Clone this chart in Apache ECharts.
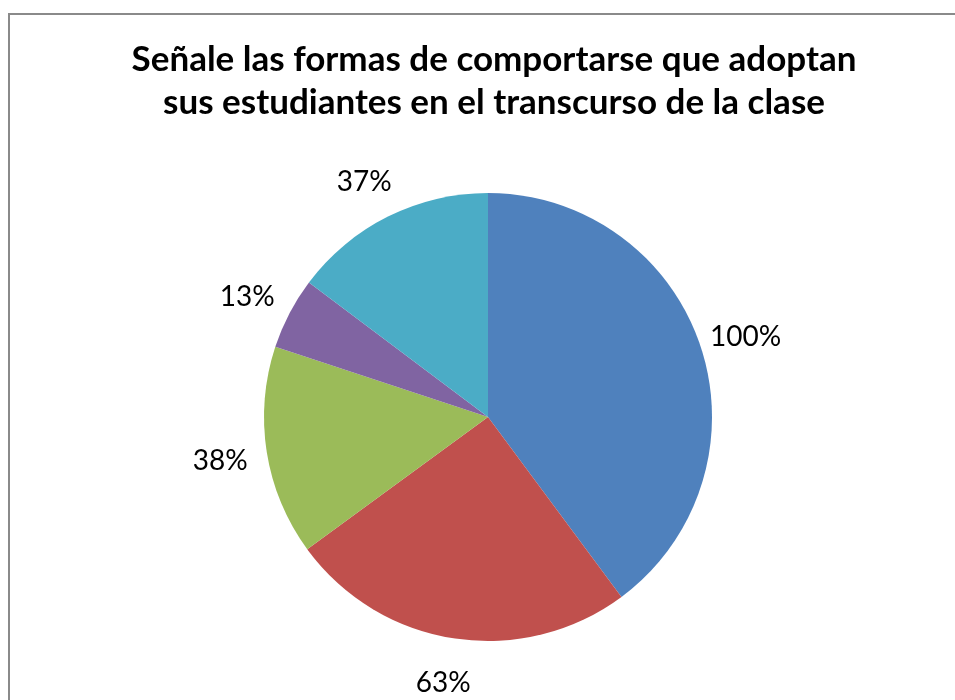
<!DOCTYPE html>
<html>
<head>
<meta charset="utf-8">
<script src="https://cdn.jsdelivr.net/npm/echarts@6/dist/echarts.min.js"></script>
<style>
    html, body { margin: 0; padding: 0; background: #fff; }
    #chart { width: 955px; height: 700px; }
</style>
</head>
<body>
<div id="chart"></div>
<script>
// valores (porcentaje de estudiantes)
var categories = ['Forma 1', 'Forma 2', 'Forma 3', 'Forma 4', 'Forma 5'];
var values = [100, 63, 38, 13, 37];
var colors = ['#4F81BD', '#C0504D', '#9BBB59', '#8064A2', '#4BACC6'];

var dom = document.getElementById('chart');
var chart = echarts.init(dom, null, { renderer: 'canvas' });

var option = {
    animation: false,
    color: colors,
    title: {
        text: 'Señale las formas de comportarse que adoptan\nsus estudiantes en el transcurso de la clase',
        left: 489,
        textAlign: 'center',
        top: 33,
        textStyle: {
            fontFamily: 'Lato',
            fontWeight: 'bold',
            fontSize: 35,
            lineHeight: 43,
            color: '#000'
        }
    },
    graphic: [{
        type: 'rect',
        shape: { x: 9, y: 14, width: 1000, height: 1000 },
        style: { fill: 'none', stroke: '#8a8a8a', lineWidth: 2 },
        silent: true
    }],
    series: [{
        type: 'pie',
        center: [488, 417],
        radius: 224,
        startAngle: 90,
        clockwise: true,
        avoidLabelOverlap: false,
        data: categories.map(function (c, i) { return { name: c, value: values[i] }; }),
        label: {
            show: true,
            position: 'outside',
            formatter: function (p) { return p.value + '%'; },
            fontFamily: 'Lato',
            fontSize: 28,
            color: '#000'
        },
        labelLine: { show: false, length: 42, length2: 0 },
        labelLayout: function () {
            return { align: 'center', verticalAlign: 'middle', dy: 3 };
        },
        itemStyle: { borderWidth: 0 }
    }]
};

chart.setOption(option);
window.addEventListener('resize', chart.resize);
</script>
</body>
</html>
